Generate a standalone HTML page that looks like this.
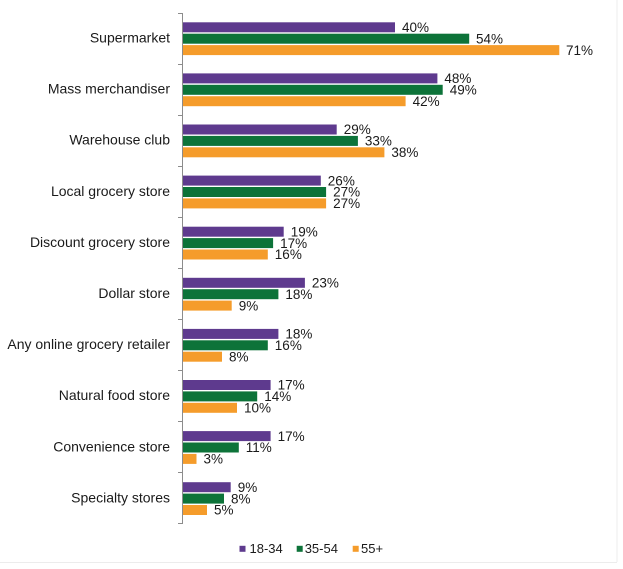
<!DOCTYPE html>
<html>
<head>
<meta charset="utf-8">
<style>
html,body{margin:0;padding:0;background:#fff;}
svg{display:block;}
text{font-family:"Liberation Sans",Arial,sans-serif;fill:#1a1a1a;}
</style>
</head>
<body>
<svg width="623" height="569" viewBox="0 0 623 569" xmlns="http://www.w3.org/2000/svg">
<rect x="0" y="0" width="623" height="569" fill="#fff"/>
<line x1="617" y1="0" x2="617" y2="562" stroke="#ececec" stroke-width="1"/>
<line x1="0" y1="562.5" x2="617" y2="562.5" stroke="#ececec" stroke-width="1"/>
<!-- axis -->
<line x1="182.5" y1="13" x2="182.5" y2="524" stroke="#8c8c8c" stroke-width="1"/>
<g stroke="#8c8c8c" stroke-width="1">
<line x1="178" y1="13.5" x2="182.5" y2="13.5"/>
<line x1="178" y1="64.5" x2="182.5" y2="64.5"/>
<line x1="178" y1="115.5" x2="182.5" y2="115.5"/>
<line x1="178" y1="166.5" x2="182.5" y2="166.5"/>
<line x1="178" y1="217.5" x2="182.5" y2="217.5"/>
<line x1="178" y1="268.5" x2="182.5" y2="268.5"/>
<line x1="178" y1="319.5" x2="182.5" y2="319.5"/>
<line x1="178" y1="370.5" x2="182.5" y2="370.5"/>
<line x1="178" y1="421.5" x2="182.5" y2="421.5"/>
<line x1="178" y1="472.5" x2="182.5" y2="472.5"/>
<line x1="178" y1="523.5" x2="182.5" y2="523.5"/>
</g>

<!-- category labels -->
<g font-size="14" text-anchor="end">
<text x="170" y="42.5">Supermarket</text>
<text x="170" y="93.6">Mass merchandiser</text>
<text x="170" y="144.7">Warehouse club</text>
<text x="170" y="195.8">Local grocery store</text>
<text x="170" y="246.9">Discount grocery store</text>
<text x="170" y="298">Dollar store</text>
<text x="170" y="349.1">Any online grocery retailer</text>
<text x="170" y="400.2">Natural food store</text>
<text x="170" y="451.3">Convenience store</text>
<text x="170" y="502.4">Specialty stores</text>
</g>

<g>
<rect x="183" y="22.3" width="212" height="10" fill="#5E3A8E"/>
<rect x="183" y="33.7" width="286.2" height="10" fill="#0D7339"/>
<rect x="183" y="45.1" width="376.3" height="10" fill="#F59C2B"/>
<rect x="183" y="73.4" width="254.4" height="10" fill="#5E3A8E"/>
<rect x="183" y="84.8" width="259.7" height="10" fill="#0D7339"/>
<rect x="183" y="96.2" width="222.6" height="10" fill="#F59C2B"/>
<rect x="183" y="124.5" width="153.7" height="10" fill="#5E3A8E"/>
<rect x="183" y="135.9" width="174.9" height="10" fill="#0D7339"/>
<rect x="183" y="147.3" width="201.4" height="10" fill="#F59C2B"/>
<rect x="183" y="175.6" width="137.8" height="10" fill="#5E3A8E"/>
<rect x="183" y="187" width="143.1" height="10" fill="#0D7339"/>
<rect x="183" y="198.4" width="143.1" height="10" fill="#F59C2B"/>
<rect x="183" y="226.7" width="100.7" height="10" fill="#5E3A8E"/>
<rect x="183" y="238.1" width="90.1" height="10" fill="#0D7339"/>
<rect x="183" y="249.5" width="84.8" height="10" fill="#F59C2B"/>
<rect x="183" y="277.8" width="121.9" height="10" fill="#5E3A8E"/>
<rect x="183" y="289.2" width="95.4" height="10" fill="#0D7339"/>
<rect x="183" y="300.6" width="48.7" height="10" fill="#F59C2B"/>
<rect x="183" y="328.9" width="95.4" height="10" fill="#5E3A8E"/>
<rect x="183" y="340.3" width="84.8" height="10" fill="#0D7339"/>
<rect x="183" y="351.7" width="39" height="10" fill="#F59C2B"/>
<rect x="183" y="380" width="87.6" height="10" fill="#5E3A8E"/>
<rect x="183" y="391.4" width="74.2" height="10" fill="#0D7339"/>
<rect x="183" y="402.8" width="54" height="10" fill="#F59C2B"/>
<rect x="183" y="431.1" width="87.6" height="10" fill="#5E3A8E"/>
<rect x="183" y="442.5" width="55.8" height="10" fill="#0D7339"/>
<rect x="183" y="453.9" width="13.5" height="10" fill="#F59C2B"/>
<rect x="183" y="482.2" width="47.7" height="10" fill="#5E3A8E"/>
<rect x="183" y="493.6" width="41" height="10" fill="#0D7339"/>
<rect x="183" y="505" width="24" height="10" fill="#F59C2B"/>
</g>

<g font-size="13.5">
<text x="402" y="32">40%</text>
<text x="476" y="43.4">54%</text>
<text x="566" y="54.8">71%</text>

<text x="444.4" y="83.1">48%</text>
<text x="449.7" y="94.5">49%</text>
<text x="412.6" y="105.9">42%</text>

<text x="343.7" y="134.2">29%</text>
<text x="364.9" y="145.6">33%</text>
<text x="391.4" y="157">38%</text>

<text x="327.8" y="185.3">26%</text>
<text x="333.1" y="196.7">27%</text>
<text x="333.1" y="208.1">27%</text>

<text x="290.7" y="236.4">19%</text>
<text x="280.1" y="247.8">17%</text>
<text x="274.8" y="259.2">16%</text>

<text x="311.9" y="287.5">23%</text>
<text x="285.4" y="298.9">18%</text>
<text x="238.7" y="310.3">9%</text>

<text x="285.4" y="338.6">18%</text>
<text x="274.8" y="350">16%</text>
<text x="229" y="361.4">8%</text>

<text x="277.6" y="389.7">17%</text>
<text x="264.2" y="401.1">14%</text>
<text x="244" y="412.5">10%</text>

<text x="277.6" y="440.8">17%</text>
<text x="245.8" y="452.2">11%</text>
<text x="203.5" y="463.6">3%</text>

<text x="237.7" y="491.9">9%</text>
<text x="231" y="503.3">8%</text>
<text x="214" y="514.7">5%</text>
</g>

<!-- legend -->
<rect x="239.5" y="545.8" width="6" height="6" fill="#5E3A8E"/>
<text x="249.5" y="553" font-size="13">18-34</text>
<rect x="296.7" y="545.8" width="6" height="6" fill="#0D7339"/>
<text x="304.7" y="553" font-size="13">35-54</text>
<rect x="352.7" y="545.8" width="6" height="6" fill="#F59C2B"/>
<text x="361" y="553" font-size="13">55+</text>
</svg>
</body>
</html>
